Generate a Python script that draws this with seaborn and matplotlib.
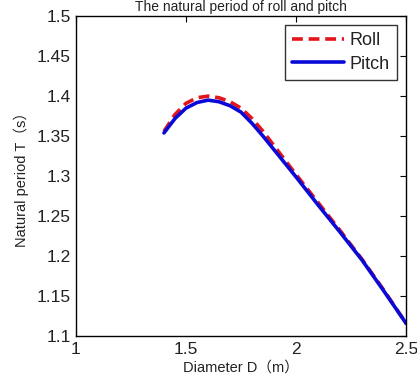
import matplotlib
matplotlib.use("Agg")
import matplotlib.pyplot as plt
import numpy as np
import pandas as pd
import seaborn as sns

# diameter D (m)
diameter = [1.40, 1.45, 1.50, 1.55, 1.60, 1.65, 1.70, 1.75, 1.80, 1.85,
            1.90, 1.95, 2.00, 2.10, 2.20, 2.30, 2.40, 2.50]
# natural period T (s)
roll = [1.356, 1.377, 1.391, 1.398, 1.400, 1.398, 1.393, 1.385, 1.372, 1.356,
        1.338, 1.320, 1.302, 1.267, 1.232, 1.196, 1.157, 1.116]
pitch = [1.354, 1.372, 1.385, 1.392, 1.395, 1.393, 1.388, 1.380, 1.366, 1.350,
         1.333, 1.316, 1.299, 1.264, 1.230, 1.195, 1.156, 1.116]

x_ticks = [1, 1.5, 2, 2.5]
x_labels = ["1", "1.5", "2", "2.5"]
y_ticks = [1.1, 1.15, 1.2, 1.25, 1.3, 1.35, 1.4, 1.45, 1.5]
y_labels = ["1.1", "1.15", "1.2", "1.25", "1.3", "1.35", "1.4", "1.45", "1.5"]

df = pd.DataFrame({
    "D": diameter * 2,
    "T": roll + pitch,
    "Series": ["Roll"] * len(diameter) + ["Pitch"] * len(diameter),
})

sns.set_style("white")
plt.rcParams["font.family"] = ["Liberation Sans", "Noto Sans CJK SC", "DejaVu Sans"]

fig = plt.figure(figsize=(4.17, 3.83), dpi=100)
ax = fig.add_axes([0.182, 0.122, 0.792, 0.836])

palette = {"Roll": "#e3141c", "Pitch": "#0a0ad8"}
sns.lineplot(data=df, x="D", y="T", hue="Series", style="Series",
             palette=palette, dashes={"Roll": (3, 1.6), "Pitch": ""},
             linewidth=2.6, ax=ax)

ax.set_xlim(1, 2.5)
ax.set_ylim(1.1, 1.5)
ax.set_xticks(x_ticks)
ax.set_xticklabels(x_labels)
ax.set_yticks(y_ticks)
ax.set_yticklabels(y_labels)
ax.tick_params(direction="in", length=4, width=0.8, labelsize=12.5,
               top=True, right=True, colors="black", labelcolor="#222222")
ax.tick_params(axis="x", pad=4)
for s in ax.spines.values():
    s.set_visible(True)
    s.set_color("black")
    s.set_linewidth(1.0)

ax.set_xlabel("Diameter D（m）", fontsize=10.5, labelpad=3, color="#222222")
ax.set_ylabel("Natural period T（s）", fontsize=10.5, labelpad=6, color="#222222")
ax.set_title("The natural period of roll and pitch", fontsize=10, pad=4,
             color="#222222")

handles, labels = ax.get_legend_handles_labels()
leg = ax.legend(handles, labels, loc="upper right", fontsize=13,
                frameon=True, fancybox=False, handlelength=2.9,
                borderpad=0.4, labelspacing=0.35, handletextpad=0.3,
                borderaxespad=0.5)
leg.get_frame().set_edgecolor("black")
leg.get_frame().set_linewidth(1.0)
for t in leg.get_texts():
    t.set_color("#222222")

fig.savefig("out.png", dpi=100)
